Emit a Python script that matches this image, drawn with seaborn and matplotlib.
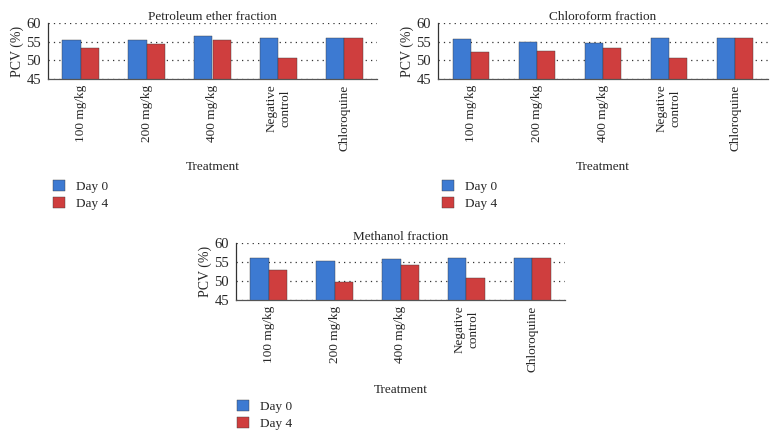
import pandas as pd
import numpy as np
import seaborn as sns
import matplotlib
matplotlib.use("Agg")
import matplotlib.pyplot as plt

treatments = ["100 mg/kg", "200 mg/kg", "400 mg/kg", "Negative\ncontrol", "Chloroquine"]
days = ["Day 0", "Day 4"]

pet_day0 = [55.4, 55.5, 56.5, 56.0, 56.0]
pet_day4 = [53.4, 54.3, 55.5, 50.5, 56.0]

chl_day0 = [55.6, 55.0, 54.6, 56.0, 56.0]
chl_day4 = [52.1, 52.5, 53.3, 50.5, 56.0]

met_day0 = [56.0, 55.2, 55.8, 56.0, 56.0]
met_day4 = [52.8, 49.8, 54.2, 50.7, 56.0]

# title, values, axes box in pixels, legend top-left in pixels
panels = [
    ("Petroleum ether fraction", pet_day0, pet_day4, [48, 23, 377, 79], (48, 175)),
    ("Chloroform fraction", chl_day0, chl_day4, [438, 23, 768, 79], (437, 175)),
    ("Methanol fraction", met_day0, met_day4, [236, 243, 565, 300], (232, 395)),
]

sns.set_theme(style="white")
plt.rcParams["font.family"] = ["Liberation Serif", "DejaVu Serif"]

W, H = 776, 437
fig = plt.figure(figsize=(W / 100, H / 100), dpi=100)

palette = {"Day 0": "#3d7ad2", "Day 4": "#cf3e3e"}

for title, d0, d4, (x0, y0, x1, y1), (lx, ly) in panels:
    ax = fig.add_axes([x0 / W, 1 - y1 / H, (x1 - x0) / W, (y1 - y0) / H])
    df = pd.DataFrame({
        "Treatment": treatments * 2,
        "Day": ["Day 0"] * 5 + ["Day 4"] * 5,
        "PCV": d0 + d4,
    })
    sns.barplot(data=df, x="Treatment", y="PCV", hue="Day", palette=palette,
                saturation=1, width=0.56, edgecolor="#3a3a3a", linewidth=0.3,
                ax=ax)
    ax.set_ylim(45, 60)
    ax.set_yticks([45, 50, 55, 60])
    ax.yaxis.grid(True, linestyle=(0, (1, 3.3)), color="#333333", linewidth=0.9)
    ax.set_axisbelow(True)
    ax.set_title(title, fontsize=9.5, pad=2)
    ax.set_ylabel("PCV (%)", fontsize=10, labelpad=2)
    ax.set_xlabel("Treatment", fontsize=9.5)
    ax.xaxis.set_label_coords(0.5, -1.47)
    ax.tick_params(axis="y", length=0, labelsize=10.5, pad=5)
    ax.tick_params(axis="x", length=0, labelsize=9.5, pad=4)
    for lab in ax.get_xticklabels():
        lab.set_rotation(90)
        lab.set_va("top")
        lab.set_ha("center")
        lab.set_multialignment("center")
    for s in ["top", "right"]:
        ax.spines[s].set_visible(False)
    ax.spines["left"].set_color("#333333")
    ax.spines["bottom"].set_color("#555555")
    ax.spines["left"].set_linewidth(0.9)
    ax.spines["bottom"].set_linewidth(0.9)
    ax.legend(title=None, frameon=False, loc="upper left",
              bbox_to_anchor=(lx / W, 1 - ly / H), bbox_transform=fig.transFigure,
              fontsize=9.5, handlelength=0.9, handleheight=0.9,
              handletextpad=0.8, labelspacing=0.3, borderaxespad=0)

fig.savefig("out.png", dpi=100)
